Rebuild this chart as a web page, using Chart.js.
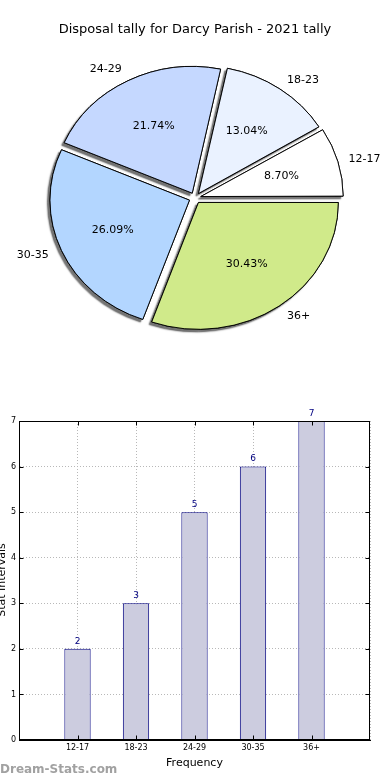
<!DOCTYPE html>
<html>
<head>
<meta charset="utf-8">
<script src="https://cdn.jsdelivr.net/npm/chart.js@4/dist/chart.umd.min.js"></script>
<style>
  html, body { margin: 0; padding: 0; background: #fff; }
  body { width: 390px; height: 780px; position: relative; overflow: hidden; font-family: "DejaVu Sans", sans-serif; }
  #pieWrap { position: absolute; left: 0; top: 0; width: 390px; height: 400px; }
  #barWrap { position: absolute; left: 0; top: 400px; width: 390px; height: 380px; }
  #wm { position: absolute; left: 0; top: 762px; font: bold 12px "DejaVu Sans", sans-serif; color: rgba(130,130,130,0.75); }
</style>
</head>
<body>
<div id="pieWrap"><canvas id="pie" width="390" height="400"></canvas></div>
<div id="barWrap"><canvas id="bar" width="390" height="380"></canvas></div>
<div id="wm">Dream-Stats.com</div>
<script>
// ---- data ----
const titleText = "Disposal tally for Darcy Parish - 2021 tally";
const categories = ["12-17", "18-23", "24-29", "30-35", "36+"];
const counts = [2, 3, 5, 6, 7];
const pieColors = ["#ffffff", "#eaf2ff", "#c5d8ff", "#b3d6ff", "#d0ea8a"];
const yTicks = [0, 1, 2, 3, 4, 5, 6, 7];
const xAxisTitle = "Frequency";
const yAxisTitle = "Stat Intervals";

const FONT = '"DejaVu Sans", sans-serif';
const total = counts.reduce((a, b) => a + b, 0);

// ---- pie (drawn clockwise in canvas, so reverse to mimic counter-clockwise) ----
const pieLabels = categories.slice().reverse();
const pieData = counts.slice().reverse();
const pieBg = pieColors.slice().reverse();
const SY = 127 / 140;   // vertical squash (elliptical pie)
const EXPLODE = 6;      // px actually moved (Chart.js v4 divides offset by 4)

function squash(ctx, chart) {
  const a = chart.chartArea;
  const cx = (a.left + a.right) / 2, cy = (a.top + a.bottom) / 2;
  ctx.translate(cx, cy); ctx.scale(1, SY); ctx.translate(-cx, -cy);
}

const piePlugin = {
  id: 'piePlugin',
  beforeDatasetsDraw(chart) {
    const ctx = chart.ctx;
    const meta = chart.getDatasetMeta(0);
    ctx.save();
    squash(ctx, chart);
    ctx.shadowColor = 'rgba(0,0,0,0.55)';
    ctx.shadowBlur = 1.5;
    ctx.shadowOffsetX = -2.5;
    ctx.shadowOffsetY = 2.5;
    meta.data.forEach(el => el.draw(ctx));
    ctx.restore();
    ctx.save();
    squash(ctx, chart);
  },
  afterDatasetsDraw(chart) {
    const ctx = chart.ctx;
    ctx.restore();
    const meta = chart.getDatasetMeta(0);
    const a = chart.chartArea;
    const cy0 = (a.top + a.bottom) / 2;
    ctx.save();
    ctx.fillStyle = '#000';
    ctx.font = '11px ' + FONT;
    ctx.textBaseline = 'middle';
    meta.data.forEach((el, i) => {
      const p = el.getProps(['x', 'y', 'startAngle', 'endAngle', 'outerRadius'], true);
      const mid = (p.startAngle + p.endAngle) / 2;
      const c = Math.cos(mid), s = Math.sin(mid);
      const tx = p.x + EXPLODE * c, ty = p.y + EXPLODE * s;
      const R = p.outerRadius;
      let lx = tx + 1.1 * R * c, ly = ty + 1.1 * R * s;
      ly = cy0 + (ly - cy0) * SY;
      ctx.textAlign = c >= 0 ? 'left' : 'right';
      ctx.fillText(pieLabels[i], lx, ly);
      let px = tx + 0.6 * R * c, py = ty + 0.6 * R * s;
      py = cy0 + (py - cy0) * SY;
      ctx.textAlign = 'center';
      ctx.fillText((pieData[i] / total * 100).toFixed(2) + '%', px, py);
    });
    ctx.restore();
  }
};

new Chart(document.getElementById('pie'), {
  type: 'pie',
  data: {
    labels: pieLabels,
    datasets: [{
      data: pieData,
      backgroundColor: pieBg,
      borderColor: '#000',
      borderWidth: 1,
      offset: EXPLODE * 4,
      hoverOffset: 0
    }]
  },
  options: {
    responsive: false,
    animation: false,
    rotation: 90,
    radius: 139.5,
    layout: { padding: { top: 0, bottom: 4, left: 0, right: 0 } },
    plugins: {
      legend: { display: false },
      tooltip: { enabled: false },
      title: { display: false }
    }
  },
  plugins: [piePlugin, {
    id: 'pieTitle',
    afterDraw(chart) {
      const ctx = chart.ctx;
      ctx.save();
      ctx.font = '13px ' + FONT;
      ctx.fillStyle = '#000';
      ctx.textAlign = 'center';
      ctx.textBaseline = 'middle';
      ctx.fillText(titleText, 195, 30);
      ctx.restore();
    }
  }]
});

// ---- bar ----
const barPlugin = {
  id: 'barPlugin',
  afterDraw(chart) {
    const ctx = chart.ctx;
    const meta = chart.getDatasetMeta(0);
    ctx.save();
    ctx.font = '9px ' + FONT;
    ctx.fillStyle = '#000080';
    ctx.textAlign = 'center';
    ctx.textBaseline = 'bottom';
    meta.data.forEach((el, i) => {
      ctx.fillText(String(counts[i]), el.x, el.y - 3);
    });
    ctx.fillStyle = '#000';
    ctx.font = '11px ' + FONT;
    ctx.translate(2, 180);
    ctx.rotate(-Math.PI / 2);
    ctx.textAlign = 'center';
    ctx.textBaseline = 'middle';
    ctx.fillText(yAxisTitle, 0, 0);
    ctx.restore();
  }
};

new Chart(document.getElementById('bar'), {
  type: 'bar',
  data: {
    datasets: [{
      data: counts.map((v, i) => ({ x: i, y: v })),
      backgroundColor: '#ccccdf',
      borderColor: '#000080',
      borderWidth: 1,
      barPercentage: 0.45,
      categoryPercentage: 1.0
    }]
  },
  options: {
    responsive: false,
    animation: false,
    layout: { padding: { top: 21, right: 20, left: 0, bottom: 0 } },
    plugins: { legend: { display: false }, tooltip: { enabled: false } },
    scales: {
      x: {
        type: 'linear',
        offset: false,
        z: 1,
        min: -1, max: 5,
        afterBuildTicks(scale) { scale.ticks = [-1, 0, 1, 2, 3, 4, 5].map(v => ({ value: v })); },
        afterFit(scale) { scale.height = 40; },
        ticks: {
          callback: v => categories[v] || '',
          font: { size: 8, family: FONT },
          color: '#000',
          padding: 3,
          maxRotation: 0,
          autoSkip: false
        },
        grid: { color: '#b8b8b8', lineWidth: 1, drawTicks: false, offset: false },
        border: { display: true, color: '#000', width: 1, dash: [1, 2] },
        title: { display: true, text: xAxisTitle, font: { size: 11, family: FONT }, color: '#000', padding: { top: 2, bottom: 10 } }
      },
      y: {
        min: 0, max: 7,
        z: 1,
        afterBuildTicks(scale) { scale.ticks = yTicks.map(v => ({ value: v })); },
        afterFit(scale) { scale.width = 19; },
        ticks: { font: { size: 8, family: FONT }, color: '#000', padding: 3 },
        grid: { color: '#b8b8b8', lineWidth: 1, drawTicks: false },
        border: { display: true, color: '#000', width: 1, dash: [1, 2] }
      }
    }
  },
  plugins: [barPlugin, {
    id: 'frame',
    afterDraw(chart) {
      const a = chart.chartArea, ctx = chart.ctx;
      const xs = chart.scales.x, ys = chart.scales.y;
      ctx.save();
      ctx.strokeStyle = '#000';
      ctx.lineWidth = 1;
      const L = Math.round(a.left) + 0.5, T = Math.round(a.top) + 0.5;
      const Rr = Math.round(a.right) - 0.5, B = Math.round(a.bottom) - 0.5;
      ctx.strokeRect(L, T, Rr - L, B - T);
      ctx.beginPath();
      yTicks.forEach(v => {
        const y = Math.round(ys.getPixelForValue(v)) + 0.5;
        ctx.moveTo(L, y); ctx.lineTo(L + 4, y);
        ctx.moveTo(Rr, y); ctx.lineTo(Rr - 4, y);
      });
      categories.forEach((c, i) => {
        const x = Math.round(xs.getPixelForValue(i)) + 0.5;
        ctx.moveTo(x, B); ctx.lineTo(x, B - 4);
        ctx.moveTo(x, T); ctx.lineTo(x, T + 4);
      });
      ctx.stroke();
      ctx.restore();
    }
  }]
});
</script>
</body>
</html>
